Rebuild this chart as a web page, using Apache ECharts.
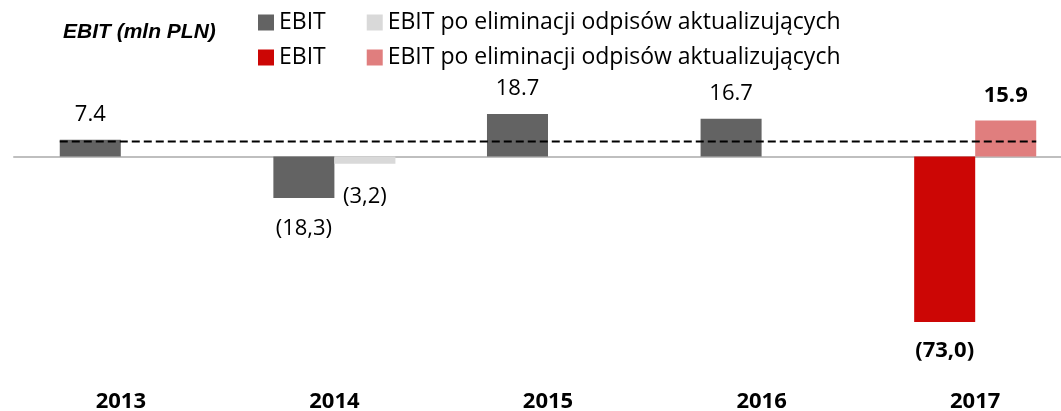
<!DOCTYPE html>
<html>
<head>
<meta charset="utf-8">
<script src="https://cdn.jsdelivr.net/npm/echarts@6/dist/echarts.min.js"></script>
<style>
html,body{margin:0;padding:0;background:#fff;}
#chart{width:1061px;height:411px;}
</style>
</head>
<body>
<div id="chart"></div>
<script>
// ---- data ----
const categories = ['2013', '2014', '2015', '2016', '2017'];
const ebit = [7.4, -18.3, 18.7, 16.7, null];
const ebitAdj = [null, -3.2, null, null, null];
const ebit2017 = [null, null, null, null, -73.0];
const ebitAdj2017 = [null, null, null, null, 15.9];
const refLevel = 6.6;
const seriesNames = ['EBIT', 'EBIT po eliminacji odpisów aktualizujących'];
const title = 'EBIT (mln PLN)';

// ---- helpers ----
const SUFFIX = ' 2017';
const fmt = function (p) {
  const v = p.value;
  if (v == null || isNaN(v)) return '';
  if (v < 0) return '(' + Math.abs(v).toFixed(1).replace('.', ',') + ')';
  return v.toFixed(1);
};
const FONT = 'Open Sans';
const barFrac = 2 / 7; // bar width as fraction of category band

function barSeries(name, data, stack, color, bold, distPos, distNeg) {
  return {
    name: name,
    type: 'bar',
    stack: stack,
    data: data.map(function (v) {
      if (v == null) return v;
      return {
        value: v,
        label: { position: v < 0 ? 'bottom' : 'top', distance: v < 0 ? distNeg : distPos }
      };
    }),
    itemStyle: { color: color },
    barGap: '0%',
    barCategoryGap: '42.86%',
    label: {
      show: true,
      formatter: fmt,
      color: '#000',
      fontFamily: FONT,
      fontSize: 22,
      fontWeight: bold ? 'bold' : 'normal'
    }
  };
}

const chart = echarts.init(document.getElementById('chart'), null, { renderer: 'canvas' });

const legendText = { fontFamily: FONT, fontSize: 23, color: '#000' };

const option = {
  animation: false,
  backgroundColor: '#fff',
  title: {
    text: title,
    left: 63,
    top: 22,
    padding: 0,
    textStyle: {
      fontFamily: 'Liberation Sans',
      fontStyle: 'italic',
      fontWeight: 'bold',
      fontSize: 21,
      color: '#000'
    }
  },
  legend: [
    {
      data: [seriesNames[0], seriesNames[1]],
      left: 258,
      top: 11,
      padding: 0,
      itemWidth: 16,
      itemHeight: 16,
      itemGap: 41,
      icon: 'rect',
      textStyle: legendText
    },
    {
      data: [seriesNames[0] + SUFFIX, seriesNames[1] + SUFFIX],
      left: 258,
      top: 46,
      padding: 0,
      itemWidth: 16,
      itemHeight: 16,
      itemGap: 41,
      icon: 'rect',
      formatter: function (n) { return n.replace(SUFFIX, ''); },
      textStyle: legendText
    }
  ],
  grid: { left: 14, top: 88.5, width: 1068, height: 249.4, containLabel: false, outerBoundsMode: 'none' },
  xAxis: [
    {
      type: 'category',
      data: categories,
      axisLine: { show: true, onZero: true, lineStyle: { color: '#bfbfbf', width: 2 } },
      axisTick: { show: false },
      axisLabel: {
        margin: 53,
        fontFamily: FONT,
        fontWeight: 'bold',
        fontSize: 22,
        color: '#000'
      },
      splitLine: { show: false }
    },
    {
      type: 'value',
      min: -0.5,
      max: categories.length - 0.5,
      show: false
    }
  ],
  yAxis: {
    type: 'value',
    min: -80,
    max: 30,
    show: false,
    splitLine: { show: false }
  },
  series: [
    barSeries(seriesNames[0], ebit, 'a', '#636363', false, 14, 20),
    barSeries(seriesNames[1], ebitAdj, 'b', '#d9d9d9', false, 14, 22),
    barSeries(seriesNames[0] + SUFFIX, ebit2017, 'a', '#cc0605', true, 14, 18),
    barSeries(seriesNames[1] + SUFFIX, ebitAdj2017, 'b', '#e07e7e', true, 14, 16),
    {
      name: 'ref',
      type: 'line',
      xAxisIndex: 1,
      yAxisIndex: 0,
      data: [[-barFrac, refLevel], [categories.length - 1 + barFrac, refLevel]],
      showSymbol: false,
      symbol: 'none',
      lineStyle: { color: '#000', width: 2, type: [8, 4] },
      silent: true,
      z: 5
    }
  ]
};
chart.setOption(option);
</script>
</body>
</html>
